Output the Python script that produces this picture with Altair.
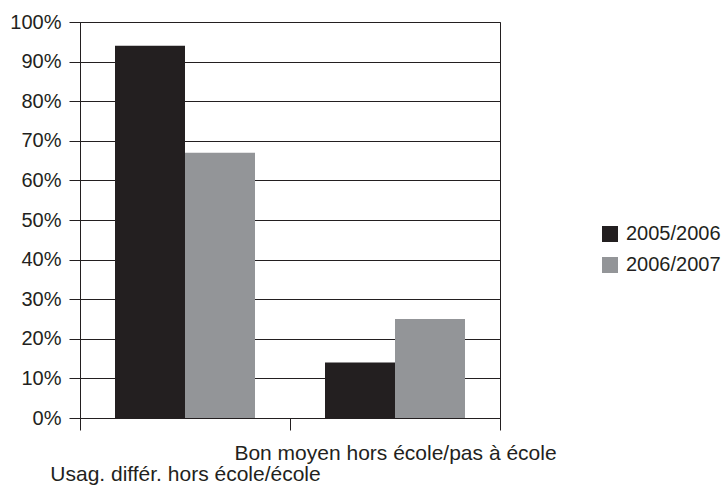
import altair as alt
import pandas as pd

# Chart data
categories = ["Usag. différ. hors école/école", "Bon moyen hors école/pas à école"]
seasons = ["2005/2006", "2006/2007"]
share_2005_2006 = [0.94, 0.14]
share_2006_2007 = [0.67, 0.25]
y_ticks = [0.0, 0.1, 0.2, 0.3, 0.4, 0.5, 0.6, 0.7, 0.8, 0.9, 1.0]

bar_colors = ["#231f20", "#939598"]
INK = "#231f20"
FONT = "Liberation Sans"

rows = []
for cat, a, b in zip(categories, share_2005_2006, share_2006_2007):
    rows.append({"categorie": cat, "annee": seasons[0], "part": a})
    rows.append({"categorie": cat, "annee": seasons[1], "part": b})
df = pd.DataFrame(rows)

# first category label drops to a second row (staggered labels)
stagger = "indexof(datum.label, 'Usag') == 0 ? ['', datum.label] : datum.label"

chart = (
    alt.Chart(df)
    .mark_bar()
    .encode(
        x=alt.X(
            "categorie:N",
            sort=categories,
            title=None,
            # full-width bands so that ticks fall on category boundaries
            scale=alt.Scale(paddingInner=0, paddingOuter=0),
            axis=alt.Axis(
                labelAngle=0,
                tickBand="extent",
                tickSize=12,
                labelPadding=12,
                labelBaseline="top",
                labelLineHeight=21,
                labelLimit=0,
                labelFontSize=21,
                labelExpr=stagger,
                grid=False,
            ),
        ),
        xOffset=alt.XOffset(
            "annee:N",
            sort=seasons,
            scale=alt.Scale(paddingInner=0, paddingOuter=0.5),
        ),
        y=alt.Y(
            "part:Q",
            title=None,
            scale=alt.Scale(domain=[0, 1], nice=False),
            axis=alt.Axis(
                format=".0%",
                values=y_ticks,
                tickSize=11,
                labelPadding=8,
                grid=True,
            ),
        ),
        color=alt.Color(
            "annee:N",
            sort=seasons,
            scale=alt.Scale(domain=seasons, range=bar_colors),
            legend=alt.Legend(
                title=None,
                orient="none",
                legendX=520,
                legendY=202,
                symbolType="square",
                symbolSize=256,
                symbolStrokeWidth=0,
                labelOffset=6,
                rowPadding=11,
                padding=0,
            ),
        ),
    )
    .properties(
        width=420,
        height=396,
        autosize=alt.AutoSizeParams(type="none"),
        padding={"left": 80, "top": 22, "right": 224, "bottom": 71},
    )
    .configure_view(stroke=INK, strokeWidth=1)
    .configure_axis(
        domainColor=INK,
        tickColor=INK,
        gridColor=INK,
        gridOpacity=1,
        gridWidth=1,
        labelFont=FONT,
        labelFontSize=20,
        labelColor=INK,
    )
    .configure_legend(labelFont=FONT, labelFontSize=20, labelColor=INK)
)

chart.save("out.html", embed_options={"renderer": "svg", "actions": False})
